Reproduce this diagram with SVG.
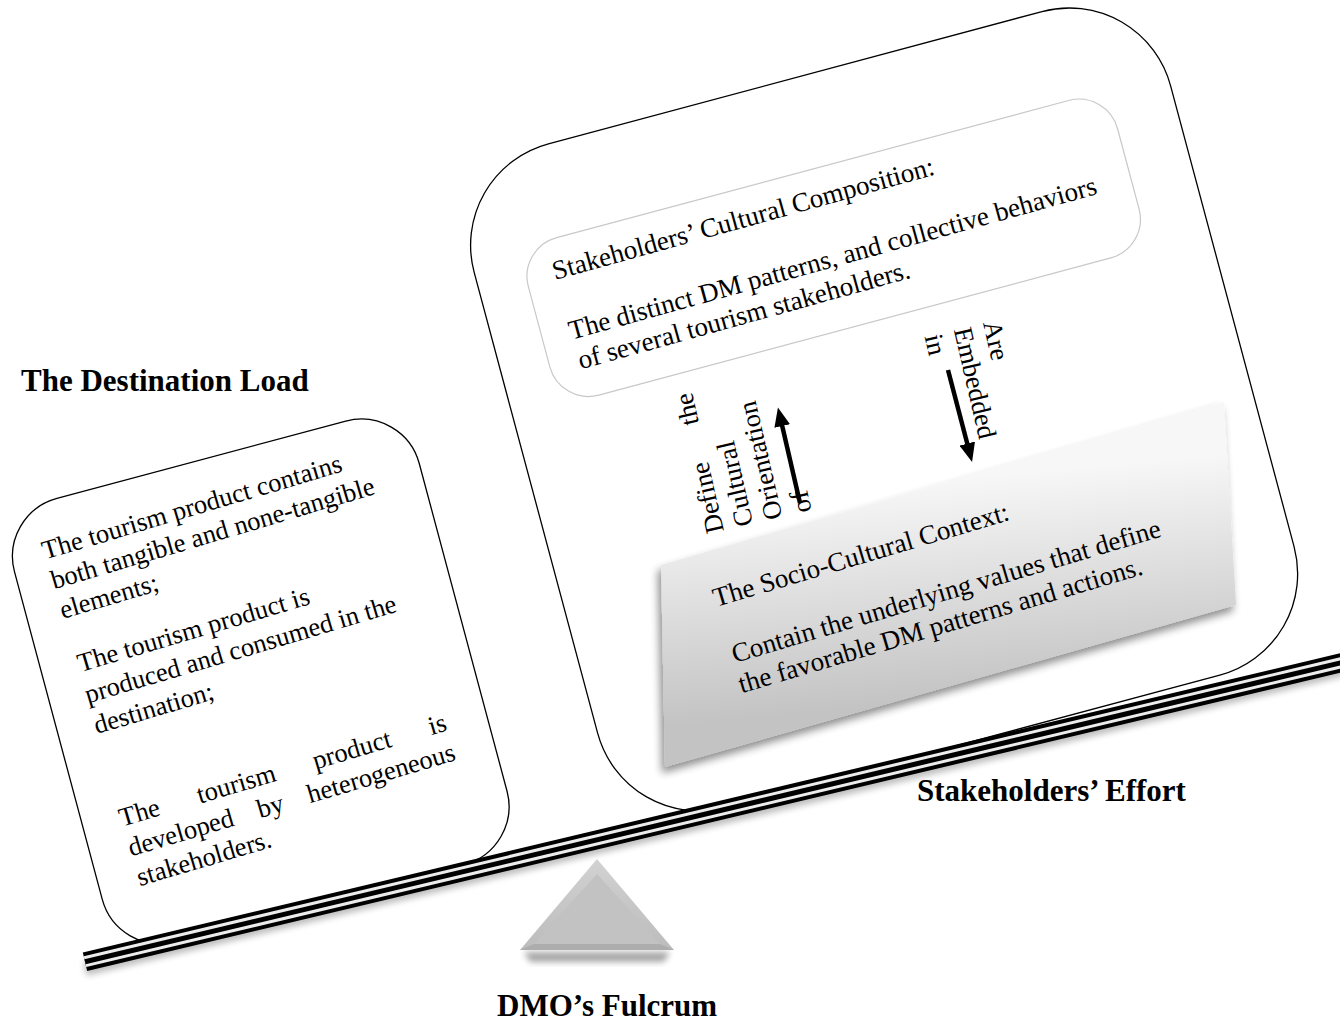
<svg xmlns="http://www.w3.org/2000/svg" width="1340" height="1028" viewBox="0 0 1340 1028">
  <defs>
    <style>
      .lbl { font-family: "Liberation Serif", "Times New Roman", serif; font-weight: bold; font-size: 31px; fill: #000; }
      .t1 { font-family: "Liberation Serif", "Times New Roman", serif; font-size: 26.5px; fill: #000; }
      .t2 { font-family: "Liberation Serif", "Times New Roman", serif; font-size: 27px; fill: #000; }
      .frame { fill: #fff; stroke: #000; stroke-width: 1.3; }
      .soft { fill: #fff; stroke: #c8c8c8; stroke-width: 1.2; }
      .arrow { stroke: #000; stroke-width: 4.5; fill: none; marker-end: url(#head); }
    </style>
    <marker id="head" markerUnits="userSpaceOnUse" markerWidth="20" markerHeight="16" refX="1" refY="8" orient="auto">
      <path d="M0,0 L19,8 L0,16 z" fill="#000"/>
    </marker>
    <linearGradient id="ctxFill" gradientUnits="userSpaceOnUse" x1="940" y1="480" x2="960" y2="700">
      <stop offset="0" stop-color="#f7f7f7"/>
      <stop offset="1" stop-color="#c3c3c3"/>
    </linearGradient>
    <linearGradient id="fulFill" x1="0" y1="0" x2="0" y2="1">
      <stop offset="0" stop-color="#d2d2d2"/>
      <stop offset="1" stop-color="#bcbcbc"/>
    </linearGradient>
    <filter id="dropShadow" x="-10%" y="-10%" width="125%" height="135%">
      <feGaussianBlur in="SourceAlpha" stdDeviation="4"/>
      <feOffset dx="-3" dy="6"/>
      <feComponentTransfer><feFuncA type="linear" slope="0.45"/></feComponentTransfer>
      <feMerge><feMergeNode/><feMergeNode in="SourceGraphic"/></feMerge>
    </filter>
    <filter id="blur3" x="-20%" y="-50%" width="140%" height="200%">
      <feGaussianBlur stdDeviation="3"/>
    </filter>
  </defs>

  <!-- effort side: outer rounded frame -->
  <g id="effort-frame">
    <rect class="frame" x="0" y="0" width="721" height="687" rx="105" transform="translate(447,171) rotate(-15)"/>
  </g>

  <!-- stakeholders' cultural composition -->
  <g id="composition">
    <rect class="soft" x="0" y="0" width="610" height="163" rx="40" transform="translate(518,248) rotate(-15)"/>
    <g class="t2" transform="translate(555,280) rotate(-15.5)">
      <text x="0" y="0">Stakeholders’ Cultural Composition:</text>
      <text x="0" y="62">The distinct DM patterns, and collective behaviors</text>
      <text x="1" y="93">of several tourism stakeholders.</text>
    </g>
  </g>

  <!-- socio-cultural context -->
  <g id="context">
    <polygon points="661,565 1224,402 1236,605 665,767" fill="url(#ctxFill)" filter="url(#dropShadow)"/>
    <g class="t2" transform="translate(716,607) rotate(-16.5)">
      <text x="0" y="0">The Socio-Cultural Context:</text>
      <text x="2" y="59">Contain the underlying values that define</text>
      <text x="0" y="90">the favorable DM patterns and actions.</text>
    </g>
  </g>

  <!-- connectors between the two layers -->
  <g id="connectors">
    <line class="arrow" x1="800" y1="503" x2="782" y2="425"/>
    <line class="arrow" x1="948" y1="370" x2="967.5" y2="444.5"/>
    <g class="t1" transform="translate(724,531) rotate(-103)">
      <text y="0"><tspan x="0">Define</tspan><tspan x="110.6">the</tspan></text>
      <text x="0" y="30">Cultural</text>
      <text x="0" y="60">Orientation</text>
      <text x="0" y="90">of</text>
    </g>
    <g class="t1" transform="translate(983,323) rotate(77)">
      <text x="0" y="0">Are</text>
      <text x="0" y="30">Embedded</text>
      <text x="0" y="60">in</text>
    </g>
  </g>

  <!-- destination load -->
  <g id="load">
    <rect class="frame" x="0" y="0" width="419" height="459" rx="60" transform="translate(-1,514) rotate(-15)"/>
    <g class="t1" transform="translate(47,559) rotate(-16.5)">
      <text x="-2" y="0">The tourism product contains</text>
      <text x="-2" y="31">both tangible and none-tangible</text>
      <text x="-2" y="62">elements;</text>
      <text x="0" y="118">The tourism product is</text>
      <text x="-2" y="150">produced and consumed in the</text>
      <text x="-2" y="182">destination;</text>
      <text y="278"><tspan x="-4">The</tspan><tspan x="77">tourism</tspan><tspan x="197.6">product</tspan><tspan x="318.3">is</tspan></text>
      <text y="309"><tspan x="-4">developed</tspan><tspan x="130.6">by</tspan><tspan x="182.9">heterogeneous</tspan></text>
      <text x="-4" y="340">stakeholders.</text>
    </g>
  </g>

  <!-- lever beam: triple rule -->
  <g id="beam">
    <path d="M85,969 L1345,669" stroke="#000" stroke-width="14" opacity="0.25" filter="url(#blur3)"/>
    <path d="M85,961.7 L1345,661.8" stroke="#000" stroke-width="19"/>
    <path d="M85,961.7 L1345,661.8" stroke="#ececec" stroke-width="11"/>
    <path d="M85,961.7 L1345,661.8" stroke="#000" stroke-width="5"/>
  </g>

  <!-- fulcrum -->
  <g id="fulcrum">
    <polygon points="524,952 670,952 664,962 530,962" fill="#000" opacity="0.35" filter="url(#blur3)"/>
    <polygon points="597,859 674,950 520,950" fill="url(#fulFill)"/>
    <polygon points="597,874 660,944 534,944" fill="#c2c2c2"/>
    <polygon points="534,944 660,944 674,950 520,950" fill="#adadad"/>
  </g>

  <!-- labels -->
  <g id="labels">
    <text class="lbl" x="21" y="391">The Destination Load</text>
    <text class="lbl" x="917" y="801">Stakeholders’ Effort</text>
    <text class="lbl" x="497" y="1016">DMO’s Fulcrum</text>
  </g>
</svg>
